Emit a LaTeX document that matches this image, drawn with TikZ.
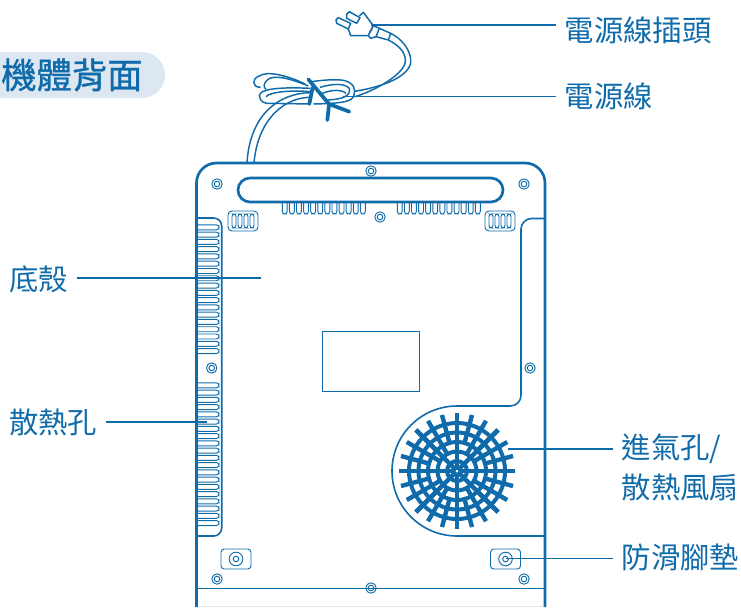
\documentclass[tikz,border=0pt]{standalone}
\usepackage{fontspec}
\newfontfamily\cjk{Noto Sans CJK TC}
\newfontfamily\cjkhead[FakeBold=1.0]{Noto Sans CJK TC}
\definecolor{hobblue}{HTML}{0F6BAA}
\definecolor{hobpale}{HTML}{DDE7F2}
\tikzset{
  wall/.style={draw=hobblue,line width=2pt},
  edge/.style={draw=hobblue,line width=1.2pt},
  cord/.style={draw=hobblue,line width=1.1pt,line join=round},
  thin line/.style={draw=hobblue,line width=0.7pt},
  grid line/.style={draw=hobblue,line width=3.3pt},
  leader/.style={draw=hobblue,line width=0.9pt},
  tie/.style={draw=hobblue,line width=2.8pt,line cap=round},
  lbl/.style={text=hobblue,font=\cjk\fontsize{22}{22}\selectfont,inner sep=0pt,outer sep=6.5pt,anchor=west},
  screw/.pic={
    \draw[thin line] (0,0) circle (5.2);
    \draw[thin line] (0,0) circle (2.8);
  },
  foot/.pic={
    \draw[thin line,rounded corners=2.5pt] (-15,-10) rectangle (15,10);
    \draw[thin line] (0,0) circle (6.8);
    \draw[thin line] (0,0) circle (2.8);
  },
  grille/.pic={
    \draw[thin line,rounded corners=3pt] (-15,-10) rectangle (15,10);
    \foreach \k in {-9,-3,3,9}
      \draw[thin line,rounded corners=2pt] (\k-2,-7) rectangle (\k+2,7);
  }
}
\begin{document}
\begin{tikzpicture}[x=0.75pt,y=-0.75pt]
  \useasboundingbox (0,0) rectangle (741,608);
  % title
  \fill[hobpale] (0,52) -- (142,52) arc (-90:90:23) -- (0,98) -- cycle;
  \node[text=hobblue,font=\cjkhead\fontsize{26.5}{26.5}\selectfont,inner sep=0pt,anchor=west] (title) at (1,75) {機體背面};
  % body
  \fill[hobpale] (199,605.5) rectangle (543,607);
  \draw[wall] (196.5,607) -- (196.5,183) arc (180:270:20) -- (525,163) arc (270:360:20) -- (545,607);
  \draw[edge] (196.5,588.5) -- (545,588.5);
  \draw[wall] (250,178) -- (491,178) arc (-90:90:12) -- (250,202) arc (90:270:12) -- cycle;
  \draw[thin line] (322.5,331.5) rectangle (419,391.5);
  % vents under the handle
  \foreach \k in {0,...,11} {
    \draw[thin line,rounded corners=2pt] (282.3+7.1*\k,202) -- (282.3+7.1*\k,214) -- (287.2+7.1*\k,214) -- (287.2+7.1*\k,202);
    \draw[thin line,rounded corners=2pt] (397.3+7.1*\k,202) -- (397.3+7.1*\k,214) -- (402.2+7.1*\k,214) -- (402.2+7.1*\k,202);
  }
  \pic at (243,221) {grille};
  \pic at (500,221) {grille};
  % left vents
  \draw[edge,rounded corners=6pt] (197,218) -- (221.7,218) -- (221.7,536) -- (197,536);
  \foreach \k in {0,...,17}
    \draw[thin line,rounded corners=2pt] (197,224.8+7.28*\k) -- (219,224.8+7.28*\k) -- (219,229.8+7.28*\k) -- (197,229.8+7.28*\k);
  \foreach \k in {0,...,19}
    \draw[thin line,rounded corners=2pt] (197,382.8+7.25*\k) -- (219,382.8+7.25*\k) -- (219,387.8+7.25*\k) -- (197,387.8+7.25*\k);
  % right panel and fan
  \draw[edge,rounded corners=8pt] (545,218.5) -- (521,218.5) -- (521,406) -- (480,406);
  \draw[edge] (480,406) -- (457,406) arc (270:90:65) -- (545,536);
  \foreach \a in {15,45,...,345}
    \draw[grid line] ({457+29*cos(\a)},{471+29*sin(\a)}) -- ({457+58*cos(\a)},{471+58*sin(\a)});
  \foreach \a in {0,30,...,330}
    \draw[grid line] ({457+19*cos(\a)},{471+19*sin(\a)}) -- ({457+58*cos(\a)},{471+58*sin(\a)});
  \foreach \a in {0,45,...,315}
    \draw[grid line] (457,471) -- ({457+58*cos(\a)},{471+58*sin(\a)});
  \foreach \r in {10,19.5,29,38.5,48}
    \draw[grid line,line width=3pt] (457,471) circle (\r);
  \fill[white] (457,471) circle (1.5);
  % screws and feet
  \foreach \p in {(217,184),(371,171),(524,184),(380,217),(530,368),(211.7,368),(217,579),(371,588),(524,579)}
    \pic at \p {screw};
  \pic at (236,559) {foot};
  \pic at (505.5,559) {foot};
  % cord, drawn in a finer grid
  \begin{scope}[shift={(230,0)},x=0.25pt,y=-0.25pt]
    \draw[cord] (350,43) -- (358,35) -- (390,53) -- (380,70) -- (350,55) -- cycle;
    \draw[cord] (318,60) -- (325,53) -- (362,70) -- (355,87) -- (320,70) -- cycle;
    \draw[cord] (388,48) -- (400,37) -- (430,77) -- (418,100) -- (415,107) -- (362,107) -- (355,87);
    \draw[cord] (418,100) -- (430,77) -- (448,85) -- (438,110) -- (422,115) -- (415,107);
    \draw[cord] (448,85) -- (482,100) -- (475,120) -- (438,110);
    \draw[cord] (482,100) .. controls (530,125) and (545,165) .. (542,190) .. controls (530,235) and (450,262) .. (373,274);
    \draw[cord] (475,120) .. controls (515,140) and (530,165) .. (525,190) .. controls (515,225) and (440,270) .. (375,290);
    \draw[cord] (225,252) .. controls (170,225) and (110,212) .. (88,228) .. controls (65,235) and (65,262) .. (92,262);
    \draw[cord] (235,258) .. controls (180,235) and (130,222) .. (112,240) .. controls (100,250) and (100,262) .. (108,268);
    \draw[cord] (240,265) .. controls (180,262) and (95,262) .. (88,285) .. controls (88,305) and (105,312) .. (120,310) -- (240,312);
    \draw[cord] (240,275) .. controls (190,270) and (120,275) .. (108,290);
    \draw[cord] (245,245) .. controls (290,238) and (330,238) .. (345,242) .. controls (372,250) and (378,270) .. (372,285) .. controls (368,305) and (340,310) .. (250,312);
    \draw[cord] (270,262) .. controls (310,250) and (345,250) .. (358,265) .. controls (362,285) and (345,298) .. (290,300);
    \draw[cord] (272,282) .. controls (305,268) and (335,268) .. (348,280);
    \draw[cord] (240,278) .. controls (150,280) and (60,340) .. (51,488);
    \draw[cord] (245,292) .. controls (170,290) and (85,350) .. (72,488);
    \draw[tie] (235,238) -- (297,312) -- (358,335);
    \draw[tie] (248,262) -- (238,312);
    \draw[tie] (297,315) -- (292,360);
  \end{scope}
  % labels
  \node[lbl] (plug lbl) at (556.3,30) {電源線插頭};
  \node[lbl] (cord lbl) at (556.3,96) {電源線};
  \node[lbl,anchor=east] (shell lbl) at (76.7,279) {底殼};
  \node[lbl,anchor=east] (vent lbl) at (105.7,422) {散熱孔};
  \node[lbl] (intake lbl) at (613.3,449) {進氣孔/};
  \node[lbl] (fan lbl) at (613.3,487) {散熱風扇};
  \node[lbl] (foot lbl) at (613.3,557) {防滑腳墊};
  % leader ends
  \coordinate (plug end) at (371,25);
  \coordinate (cord end) at (343,96.7);
  \coordinate (shell end) at (261,278);
  \coordinate (vent end) at (207,422);
  \coordinate (fan end) at (508,449);
  \coordinate (foot end) at (505.5,558.5);
  \draw[leader] (plug end) -- (plug end -| plug lbl.west);
  \draw[leader] (cord end) -- (cord end -| cord lbl.west);
  \draw[leader] (shell end) -- (shell end -| shell lbl.east);
  \draw[leader] (vent end) -- (vent end -| vent lbl.east);
  \draw[leader] (fan end) -- (fan end -| intake lbl.west);
  \draw[leader] (foot end) -- (foot end -| foot lbl.west);
\end{tikzpicture}
\end{document}
